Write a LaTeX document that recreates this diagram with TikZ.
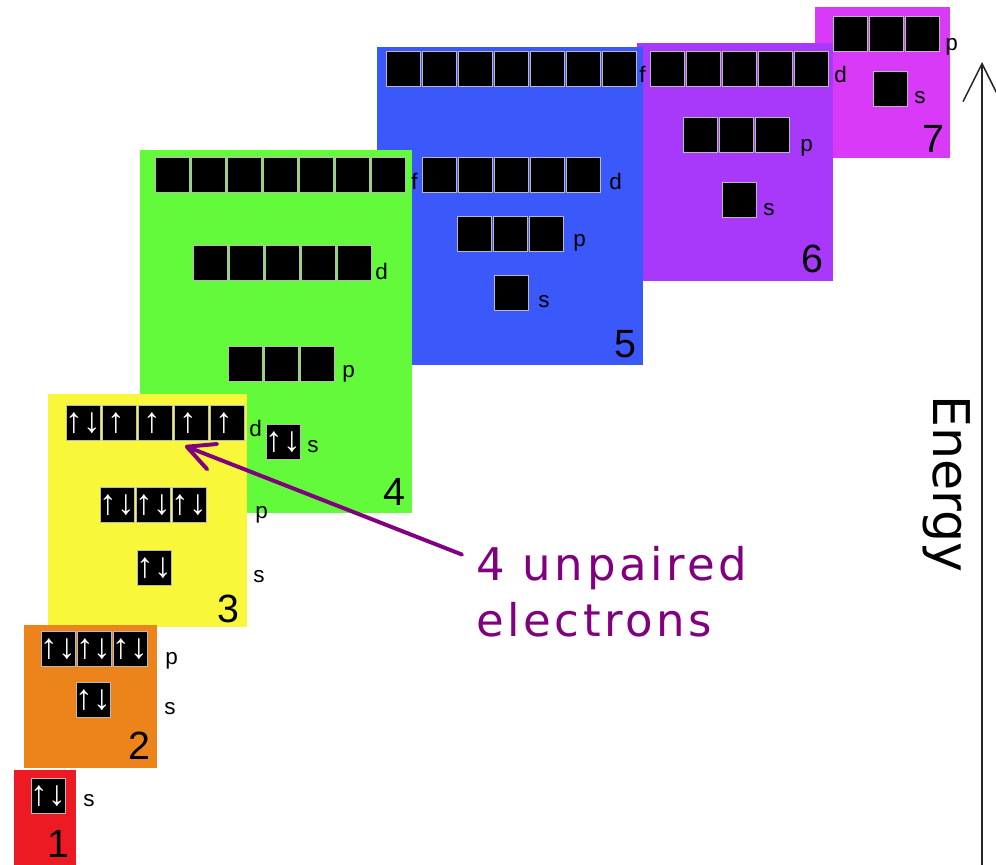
\documentclass[tikz,border=0pt]{standalone}
\usepackage{fontspec}
\setmainfont{Liberation Sans}
\newfontfamily\notefont[LetterSpace=8]{DejaVu Sans}
\newfontfamily\axisfont{DejaVu Sans}
\usepackage{tikz}
\usetikzlibrary{
  arrows.meta,
  calc
}
\definecolor{ShellRed}{RGB}{236,27,35}
\definecolor{ShellOrange}{RGB}{236,132,27}
\definecolor{ShellYellow}{RGB}{249,247,58}
\definecolor{ShellGreen}{RGB}{98,250,58}
\definecolor{ShellBlue}{RGB}{59,88,250}
\definecolor{ShellPurple}{RGB}{168,56,250}
\definecolor{ShellMagenta}{RGB}{217,58,247}
\definecolor{NotePurple}{RGB}{128,0,128}
\tikzset{
  orb/.style       = {fill=black, draw=gray!55, line width=0.4pt, inner sep=0pt,
                      minimum width=0.85cm, minimum height=0.875cm},
  spin/.style      = {text=white, inner sep=0pt, font=\fontsize{25}{25}\selectfont\bfseries},
  sub/.style       = {anchor=base west, inner sep=0pt, font=\fontsize{16}{16}\selectfont},
  shellno/.style   = {anchor=base east, inner sep=0pt, font=\fontsize{28}{28}\selectfont},
  notearrow/.style = {NotePurple, line width=2.8pt, line cap=round,
                      -{Straight Barb[length=0.68cm, width=0.68cm, round]}},
  energyarrow/.style = {black!85, line width=1.1pt,
                      -{Straight Barb[length=0.95cm, width=0.95cm]}}
}
\newcommand{\orbrow}[4]{%
  \foreach \i in {1,...,#4}
    \node [orb] (#1\i) at ({#2+36*(\i-1)}, #3) {};
}

\begin{document}
\begin{tikzpicture}[x=0.025cm, y=-0.025cm]
  \useasboundingbox (0,0) rectangle (996,865);

  % Shell 7
  \fill [ShellMagenta] (815,7) rectangle (950,158);
  \orbrow{o7p}{850}{34}{3}
  \orbrow{o7s}{890}{89}{1}
  \node [sub] at (945,51)  {p};
  \node [sub] at (914,104) {s};
  \node [shellno] at (945,153) {7};

  % Shell 6
  \fill [ShellPurple] (637,43) rectangle (833,281);
  \orbrow{o6d}{667}{69}{5}
  \orbrow{o6p}{700}{135}{3}
  \orbrow{o6s}{739}{200}{1}
  \node [sub] at (834,83)  {d};
  \node [sub] at (800,152) {p};
  \node [sub] at (763,216) {s};
  \node [shellno] at (824,273) {6};

  % Shell 5
  \fill [ShellBlue] (377,47) rectangle (643,365);
  \orbrow{o5f}{403}{69}{7}
  \orbrow{o5d}{439}{175}{5}
  \orbrow{o5p}{474}{234}{3}
  \orbrow{o5s}{511}{293}{1}
  \node [sub] at (639,83)  {f};
  \node [sub] at (609,190) {d};
  \node [sub] at (573,247) {p};
  \node [sub] at (538,308) {s};
  \node [shellno] at (637,358) {5};

  % Shell 4
  \fill [ShellGreen] (140,150) rectangle (412,513);
  \orbrow{o4f}{172}{175}{7}
  \orbrow{o4d}{210}{263}{5}
  \orbrow{o4p}{245}{364}{3}
  \orbrow{o4s}{283}{442}{1}
  \node [sub] at (411,190) {f};
  \node [sub] at (375,280) {d};
  \node [sub] at (342,378) {p};
  \node [sub] at (307,453) {s};
  \node [shellno] at (406,506) {4};

  % Shell 3
  \fill [ShellYellow] (48,394) rectangle (247,627);
  \orbrow{o3d}{83}{423}{5}
  \orbrow{o3p}{117}{505}{3}
  \orbrow{o3s}{154}{568}{1}
  \node [sub] at (249,437) {d};
  \node [sub] at (255,519) {p};
  \node [sub] at (253,583) {s};
  \node [shellno] at (240,623) {3};

  % Shell 2
  \fill [ShellOrange] (24,625) rectangle (157,768);
  \orbrow{o2p}{58}{649}{3}
  \orbrow{o2s}{93}{700}{1}
  \node [sub] at (165,665) {p};
  \node [sub] at (164,715) {s};
  \node [shellno] at (151,760) {2};

  % Shell 1
  \fill [ShellRed] (14,770) rectangle (76,865);
  \orbrow{o1s}{48}{796}{1}
  \node [sub] at (83,807) {s};
  \node [shellno] at (70,858) {1};

  % Electrons
  \foreach \o in {o1s1, o2s1, o2p1, o2p2, o2p3, o3s1, o3p1, o3p2, o3p3, o3d1, o4s1}
    \node [spin] at (\o) {↑↓};
  \foreach \o in {o3d2, o3d3, o3d4, o3d5}
    \node [spin, xshift=-2pt] at (\o) {↑};

  % Energy axis
  \coordinate (ebottom) at (982,866);
  \coordinate (etop)    at (982,62);
  \draw [energyarrow] (ebottom) -- (etop);
  \node [rotate=-90, anchor=base west, inner sep=0pt,
         font=\axisfont\fontsize{36}{36}\selectfont] (energy) at (933,395) {Energy};

  % Unpaired electrons
  \node [anchor=base west, align=left, inner sep=0pt, text=NotePurple,
         font=\notefont\fontsize{32}{40.5}\selectfont] (note) at (476,637) {4 unpaired\\electrons};
  \coordinate (unpaired) at (185,446);
  \draw [notearrow] ($(note.north west)+(-14,9)$) -- (unpaired);
\end{tikzpicture}
\end{document}
